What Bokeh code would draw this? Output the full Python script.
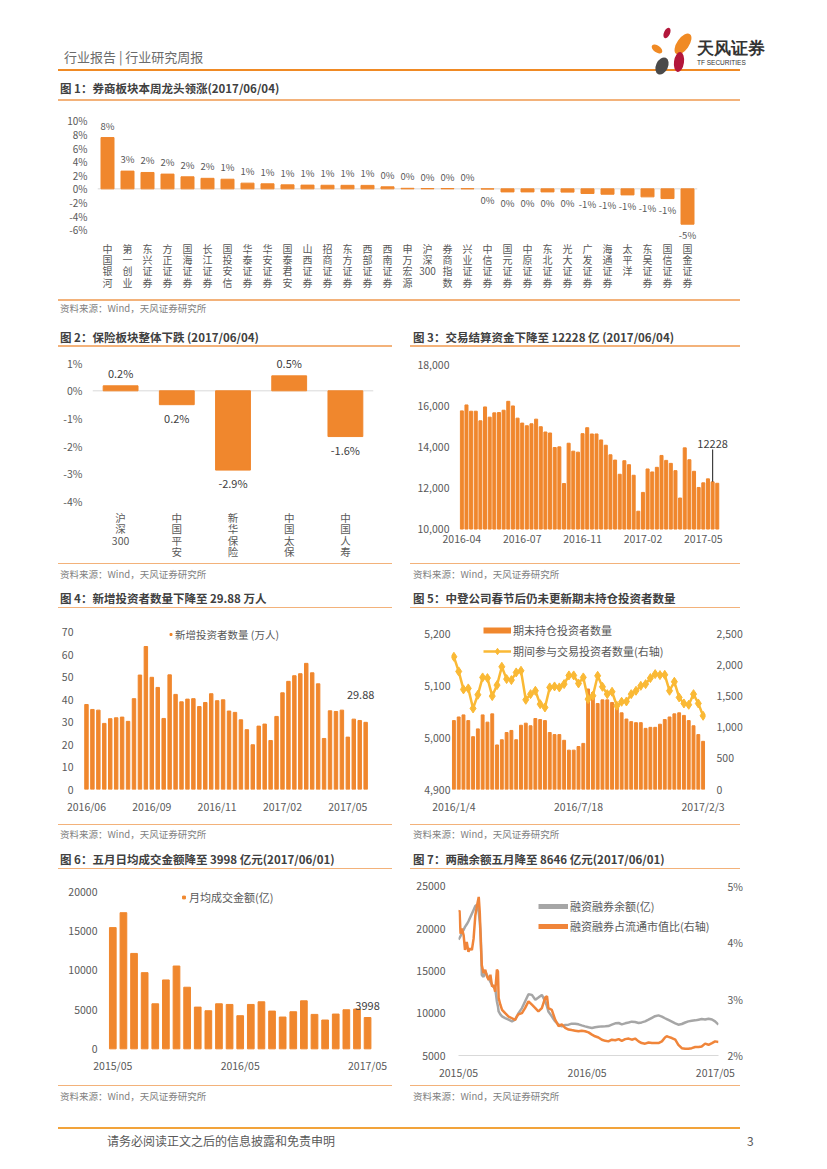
import math
import pandas as pd
from bokeh.plotting import figure
from bokeh.models import (ColumnDataSource, LabelSet, Span, FixedTicker, LinearAxis,
                          Range1d, Legend, LegendItem, Div, PrintfTickFormatter,
                          NumeralTickFormatter)
from bokeh.layouts import column, row
from bokeh.embed import file_html
from bokeh.resources import INLINE
from bokeh.core.properties import value

# ---------------- data ----------------
names1 = ["中国银河", "第一创业", "东兴证券", "方正证券", "国海证券", "长江证券", "国投安信",
          "华泰证券", "华安证券", "国泰君安", "山西证券", "招商证券", "东方证券", "西部证券",
          "西南证券", "申万宏源", "沪深300", "券商指数", "兴业证券", "中信证券", "国元证券",
          "中原证券", "东北证券", "光大证券", "广发证券", "海通证券", "太平洋", "东吴证券",
          "国信证券", "国金证券"]
chg1 = [7.55, 2.61, 2.41, 2.17, 1.77, 1.55, 1.42, 0.84, 0.74, 0.59, 0.55, 0.53, 0.52, 0.51,
        0.30, 0.08, 0.05, 0.05, 0.03, -0.03, -0.45, -0.45, -0.45, -0.48, -0.68, -0.79,
        -0.89, -1.18, -1.43, -5.2]
yticks1 = [-6, -4, -2, 0, 2, 4, 6, 8, 10]

names2 = ["沪深300", "中国平安", "新华保险", "中国太保", "中国人寿"]
chg2 = [0.18, -0.50, -2.86, 0.54, -1.65]
labels2 = ["0.2%", "0.2%", "-2.9%", "0.5%", "-1.6%"]
yticks2 = [-4, -3, -2, -1, 0, 1]

fund3 = [15751, 16040, 15735, 15735, 15269, 15944, 15446, 15655, 15671, 15783, 16217, 15992,
         15398, 15157, 15028, 15124, 15349, 14980, 14723, 14675, 13968, 14000, 12217, 14177,
         13791, 13743, 14643, 14932, 14627, 14627, 14337, 14080, 13614, 13357, 12667, 13325,
         13133, 12618, 10867, 11783, 12924, 12779, 13004, 13582, 13341, 13197, 12843, 11510,
         13952, 13373, 12811, 12024, 12249, 12442, 12297, 12228]
xticks3 = [0, 13, 26, 39, 52]
xlabels3 = ["2016-04", "2016-07", "2016-11", "2017-02", "2017-05"]
yticks3 = [10000, 12000, 14000, 16000, 18000]
ann3_index = 54
ann3_text = "12228"

new4 = [37.8, 35.6, 35.3, 29.4, 31.5, 31.9, 32.2, 30.3, 40.4, 50.9, 63.6, 49.9, 45.4, 31.6,
        51.0, 42.3, 39.0, 40.2, 40.4, 36.9, 38.7, 42.6, 39.5, 39.9, 34.9, 34.3, 31.0, 26.6,
        19.9, 28.2, 29.1, 21.8, 32.5, 43.0, 48.1, 50.6, 51.5, 56.1, 51.9, 47.0, 22.7, 35.0,
        34.7, 35.3, 23.3, 31.3, 30.7, 29.88]
xticks4 = [0, 11, 22, 33, 44]
xlabels4 = ["2016/06", "2016/09", "2016/11", "2017/02", "2017/05"]
yticks4 = [0, 10, 20, 30, 40, 50, 60, 70]
legend4 = "新增投资者数量 (万人)"

hold5 = [5033, 5040, 5044, 5033, 5002, 5017, 5044, 5030, 5046, 4986, 4996, 5010, 5014, 4996,
         5024, 5028, 5023, 5037, 5035, 5033, 5010, 5006, 5006, 4995, 4976, 4976, 4983, 4989,
         5094, 5087, 5066, 5073, 5073, 5068, 5058, 5048, 5036, 5031, 5029, 5029, 5018, 5020,
         5020, 5026, 5035, 5040, 5046, 5048, 5043, 5033, 5023, 5006, 4993]
trade5 = [2135, 1899, 1610, 1626, 1304, 1524, 1803, 1792, 1502, 1679, 1974, 1776, 1760, 1883,
          1910, 1443, 1534, 1588, 1373, 1320, 1642, 1658, 1642, 1695, 1835, 1835, 1706, 1803,
          1454, 1508, 1829, 1652, 1534, 1572, 1347, 1411, 1416, 1534, 1588, 1668, 1695, 1792,
          1856, 1840, 1845, 1588, 1733, 1481, 1384, 1363, 1534, 1384, 1186]
xticks5 = [0, 26, 52]
xlabels5 = ["2016/1/4", "2016/7/18", "2017/2/3"]
yticks5 = [4900, 5000, 5100, 5200]
rticks5 = [0, 500, 1000, 1500, 2000, 2500]
legend5 = ["期末持仓投资者数量", "期间参与交易投资者数量(右轴)"]

turn6 = [15476, 17378, 12178, 9725, 5751, 8795, 10571, 7865, 5328, 4863, 5751, 5666, 4228,
         5666, 6004, 4820, 4059, 4736, 6131, 4397, 3679, 4440, 4989, 5074, 3998]
xticks6 = [0, 12, 24]
xlabels6 = ["2015/05", "2016/05", "2017/05"]
yticks6 = [0, 5000, 10000, 15000, 20000]
legend6 = "月均成交金额(亿)"
ann6_text = "3998"

dates7 = ["2015-05-04", "2015-05-07", "2015-05-10", "2015-05-14", "2015-05-19", "2015-05-23",
          "2015-05-28", "2015-06-02", "2015-06-07", "2015-06-12", "2015-06-17", "2015-06-22",
          "2015-06-27", "2015-07-02", "2015-07-05", "2015-07-08", "2015-07-11", "2015-07-16",
          "2015-07-21", "2015-07-26", "2015-07-31", "2015-08-05", "2015-08-10", "2015-08-14",
          "2015-08-19", "2015-08-24", "2015-08-27", "2015-08-29", "2015-09-03", "2015-09-08",
          "2015-09-17", "2015-09-27", "2015-10-07", "2015-10-16", "2015-10-21", "2015-10-26",
          "2015-11-05", "2015-11-14", "2015-11-24", "2015-12-04", "2015-12-14", "2015-12-23",
          "2016-01-02", "2016-01-12", "2016-01-17", "2016-01-21", "2016-01-31", "2016-02-05",
          "2016-02-10", "2016-02-20", "2016-02-29", "2016-03-10", "2016-03-20", "2016-03-29",
          "2016-04-08", "2016-04-18", "2016-04-27", "2016-05-07", "2016-05-17", "2016-05-27",
          "2016-06-05", "2016-06-15", "2016-06-25", "2016-07-05", "2016-07-14", "2016-07-24",
          "2016-08-03", "2016-08-13", "2016-08-22", "2016-09-01", "2016-09-11", "2016-09-20",
          "2016-09-30", "2016-10-10", "2016-10-19", "2016-10-29", "2016-11-08", "2016-11-18",
          "2016-11-27", "2016-12-07", "2016-12-17", "2016-12-26", "2016-12-31", "2017-01-05",
          "2017-01-15", "2017-01-25", "2017-02-03", "2017-02-13", "2017-02-23", "2017-03-04",
          "2017-03-14", "2017-03-24", "2017-04-03", "2017-04-12", "2017-04-22", "2017-05-02",
          "2017-05-12", "2017-05-21", "2017-05-31"]
margin7 = [18700, 18900, 19100, 19520, 19850, 20190, 20500, 20850, 21300, 21750,
           22200, 22650, 22800, 21950, 20800, 19000, 14500, 14300, 14900, 14500,
           14120, 13700, 13340, 13100, 12950, 11380, 10800, 10200, 9850, 9620,
           9420, 9230, 9030, 9230, 9600, 10010, 10600, 11380, 12240, 12160,
           11580, 11850, 12160, 11380, 10800, 10200, 9620, 9300, 9030, 8640,
           8440, 8600, 8640, 8760, 8760, 8680, 8560, 8440, 8330, 8260,
           8330, 8400, 8440, 8460, 8480, 8640, 8800, 8840, 8680, 8800,
           8900, 9000, 8950, 8840, 8910, 9030, 9230, 9450, 9640, 9740,
           9600, 9400, 9300, 9200, 9000, 8800, 8640, 8720, 8900, 9030,
           9110, 9150, 9230, 9300, 9250, 9350, 9250, 9030, 8646]
ratio7 = [4.54, 4.57, 4.16, 4.25, 4.13, 3.87, 4.01, 3.84, 3.90, 3.87,
          4.07, 4.48, 4.66, 4.81, 4.54, 4.01, 3.60, 3.46, 3.52, 3.40,
          3.34, 3.43, 3.22, 3.25, 3.13, 3.52, 3.49, 3.02, 2.90, 2.81,
          2.75, 2.69, 2.66, 2.63, 2.69, 2.73, 2.75, 2.84, 2.96, 2.90,
          2.84, 2.78, 2.84, 3.03, 3.05, 2.84, 2.81, 2.72, 2.63, 2.52,
          2.55, 2.49, 2.46, 2.45, 2.44, 2.43, 2.44, 2.43, 2.41, 2.37,
          2.34, 2.32, 2.28, 2.26, 2.25, 2.28, 2.27, 2.29, 2.26, 2.29,
          2.30, 2.28, 2.30, 2.25, 2.22, 2.21, 2.23, 2.22, 2.22, 2.22,
          2.25, 2.32, 2.34, 2.33, 2.31, 2.28, 2.19, 2.13, 2.12, 2.12,
          2.13, 2.15, 2.15, 2.16, 2.21, 2.19, 2.22, 2.25, 2.24]
tickdates7 = ["2015-05-04", "2016-05-13", "2017-05-22"]
xlabels7 = ["2015/05", "2016/05", "2017/05"]
yticks7 = [5000, 10000, 15000, 20000, 25000]
rticks7 = [2, 3, 4, 5]
legend7 = ["融资融券余额(亿)", "融资融券占流通市值比(右轴)"]

titles = ["图 1：券商板块本周龙头领涨(2017/06/04)",
          "图 2：保险板块整体下跌 (2017/06/04)",
          "图 3：交易结算资金下降至 12228 亿 (2017/06/04)",
          "图 4：新增投资者数量下降至 29.88 万人",
          "图 5：中登公司春节后仍未更新期末持仓投资者数量",
          "图 6：五月日均成交金额降至 3998 亿元(2017/06/01)",
          "图 7：两融余额五月降至 8646 亿元(2017/06/01)"]
source_text = "资料来源：Wind，天风证券研究所"
header_text = "行业报告 | 行业研究周报"
footer_text = "请务必阅读正文之后的信息披露和免责申明"
page_no = "3"

# ---------------- style ----------------
FONT = "Noto Sans CJK SC"
ORANGE = "#F0872D"
GOLD = "#FAB935"
GREY = "#A6A6A6"
RED2 = "#F0853A"
TICK = "#595959"
DARK = "#404040"
RULE = "#F3B27A"
NAN = float("nan")


def stack(name):
    lines, buf = [], ""
    for ch in name:
        if ch.isascii():
            buf += ch
        else:
            if buf:
                lines.append(buf)
                buf = ""
            lines.append(ch)
    if buf:
        lines.append(buf)
    return "\n".join(lines)


def pct_label(v):
    r = int(math.floor(abs(v) + 0.5))
    return ("-" if (v < 0 and r > 0) else "") + f"{r}%"


def style_axis(ax, size="10px", standoff=8):
    ax.major_label_text_font = FONT
    ax.major_label_text_font_size = size
    ax.major_label_text_color = TICK
    ax.axis_line_color = None
    ax.major_tick_line_color = None
    ax.minor_tick_line_color = None
    ax.major_tick_out = 0
    ax.major_tick_in = 0
    ax.minor_tick_out = 0
    ax.minor_tick_in = 0
    ax.major_label_standoff = standoff


def mkfig(w, h, l, r, t, b, xr, yr):
    p = figure(width=w, height=h, x_range=xr, y_range=yr, output_backend="svg",
               toolbar_location=None, min_border_left=l, min_border_right=r,
               min_border_top=t, min_border_bottom=b)
    p.outline_line_color = None
    p.xgrid.visible = False
    p.ygrid.visible = False
    for ax in p.axis:
        style_axis(ax)
    return p


def set_xticks(p, ticks, labels):
    p.xaxis.ticker = FixedTicker(ticks=ticks, minor_ticks=[])
    p.xaxis.major_label_overrides = {t: s for t, s in zip(ticks, labels)}


def mklegend(p, items, x, y, gw, gh, standoff, spacing, size):
    lg = Legend(items=items, location=(x, y), orientation="vertical", padding=0, margin=0,
                spacing=spacing, glyph_width=gw, glyph_height=gh, label_height=gh,
                label_standoff=standoff, label_text_font=FONT, label_text_font_size=size,
                label_text_color=TICK, border_line_color=None, background_fill_alpha=0)
    p.add_layout(lg, "center")


# ---------------- chart 1 ----------------
src1 = ColumnDataSource(dict(x=list(range(len(names1))), v=chg1,
                             lab=[pct_label(v) for v in chg1],
                             off=[12 if v >= 0 else -11 for v in chg1]))
p1 = mkfig(819, 192, 97, 122, 13, 56, Range1d(-0.5, len(names1) - 0.5), Range1d(-7.6, 10.5))
p1.add_layout(Span(location=0, dimension="width", line_color="#D9D9D9", line_width=1,
                   level="underlay"))
p1.vbar(x="x", top="v", width=0.65, color=ORANGE, source=src1)
p1.yaxis.ticker = FixedTicker(ticks=yticks1, minor_ticks=[])
p1.yaxis.formatter = PrintfTickFormatter(format="%d%%")
p1.yaxis.major_label_standoff = 10
set_xticks(p1, list(range(len(names1))), [stack(n) for n in names1])
p1.xaxis.major_label_text_line_height = 0.76
p1.xaxis.major_label_standoff = 0
p1.add_layout(LabelSet(x="x", y="v", text="lab", y_offset="off", source=src1,
                       text_align="center", text_baseline="middle",
                       text_font=value(FONT), text_font_size="9.5px", text_color=TICK))

# ---------------- row 2: shared borders (top 2, bottom 6) ----------------
src2 = ColumnDataSource(dict(x=list(range(len(names2))), v=chg2, lab=labels2,
                             off=[13 if v >= 0 else -13 for v in chg2]))
p2 = mkfig(400, 212, 92, 27, 2, 6, Range1d(-0.5, len(names2) - 0.5), Range1d(-5.904, 1.382))
p2.add_layout(Span(location=0, dimension="width", line_color="#D9D9D9", line_width=1,
                   level="underlay"))
p2.vbar(x="x", top="v", width=0.62, color=ORANGE, source=src2)
p2.yaxis.ticker = FixedTicker(ticks=yticks2, minor_ticks=[])
p2.yaxis.formatter = PrintfTickFormatter(format="%d%%")
p2.yaxis.major_label_text_font_size = "10.5px"
p2.yaxis.major_label_standoff = 10
set_xticks(p2, list(range(len(names2))), [stack(n) for n in names2])
p2.xaxis.major_label_text_font_size = "10.5px"
p2.xaxis.major_label_text_line_height = 0.77
p2.xaxis.major_label_standoff = -45
p2.add_layout(LabelSet(x="x", y="v", text="lab", y_offset="off", source=src2,
                       text_align="center", text_baseline="middle",
                       text_font=value(FONT), text_font_size="11px", text_color=DARK))

x3 = list(range(len(fund3)))
p3 = mkfig(419, 212, 59, 86, 2, 6, Range1d(-0.5, len(fund3) + 2.5), Range1d(8761, 18593))
p3.vbar(x=x3, top=fund3, bottom=yticks3[0], width=0.65, color=ORANGE)
p3.yaxis.ticker = FixedTicker(ticks=yticks3, minor_ticks=[])
p3.yaxis.formatter = NumeralTickFormatter(format="0,0")
p3.yaxis.major_label_text_font_size = "10.5px"
p3.yaxis.major_label_standoff = 10
set_xticks(p3, xticks3, xlabels3)
p3.xaxis.major_label_text_font_size = "10.5px"
p3.xaxis.major_label_standoff = -20
ann3_top = fund3[ann3_index] + 1570
p3.segment(x0=[ann3_index], y0=[fund3[ann3_index]], x1=[ann3_index], y1=[ann3_top],
           line_color=DARK, line_width=1.2)
src3a = ColumnDataSource(dict(x=[ann3_index], y=[ann3_top], t=[ann3_text]))
p3.add_layout(LabelSet(x="x", y="y", text="t", source=src3a, y_offset=2,
                       text_align="center", text_baseline="bottom",
                       text_font=value(FONT), text_font_size="11px", text_color=DARK))

# ---------------- row 3: shared borders (top 7, bottom 33) ----------------
x4 = list(range(len(new4)))
p4 = mkfig(400, 212, 83, 20, 7, 33, Range1d(-0.5, len(new4) + 1.5), Range1d(0, 76.5))
p4.vbar(x=x4, top=new4, width=0.58, color=ORANGE)
p4.yaxis.ticker = FixedTicker(ticks=yticks4, minor_ticks=[])
p4.yaxis.major_label_text_font_size = "10.5px"
p4.yaxis.major_label_standoff = 10
set_xticks(p4, xticks4, xlabels4)
p4.xaxis.major_label_text_font_size = "10.5px"
p4.xaxis.major_label_standoff = 9
src4a = ColumnDataSource(dict(x=[x4[-1]], y=[new4[-1]], t=[f"{new4[-1]:.2f}"]))
p4.add_layout(LabelSet(x="x", y="y", text="t", source=src4a, y_offset=27, x_offset=-5,
                       text_align="center", text_baseline="middle",
                       text_font=value(FONT), text_font_size="11px", text_color=DARK))
px4 = p4.scatter(x=[NAN], y=[NAN], marker="square", size=7, color=ORANGE)
mklegend(p4, [LegendItem(label=legend4, renderers=[px4])], 85, 147, 5, 16, 2, 0, "10.5px")

x5 = list(range(len(hold5)))
p5 = mkfig(419, 212, 51, 114, 7, 33, Range1d(-0.5, len(hold5) - 0.5), Range1d(4900, 5232))
p5.extra_y_ranges = {"r": Range1d(0, 2500 * 332 / 300)}
p5.vbar(x=x5, top=hold5, width=0.6, color=ORANGE)
l5 = p5.line(x=x5, y=trade5, y_range_name="r", line_width=2.5, color=GOLD)
s5 = p5.scatter(x=x5, y=trade5, y_range_name="r", marker="diamond", size=9, color=GOLD)
p5.yaxis.ticker = FixedTicker(ticks=yticks5, minor_ticks=[])
p5.yaxis.formatter = NumeralTickFormatter(format="0,0")
p5.yaxis.major_label_text_font_size = "10.5px"
p5.yaxis.major_label_standoff = 1
ax5r = LinearAxis(y_range_name="r")
style_axis(ax5r, "10.5px", 11)
ax5r.ticker = FixedTicker(ticks=rticks5, minor_ticks=[])
ax5r.formatter = NumeralTickFormatter(format="0,0")
p5.add_layout(ax5r, "right")
set_xticks(p5, xticks5, xlabels5)
p5.xaxis.major_label_text_font_size = "10.5px"
p5.xaxis.major_label_standoff = 9
pb5 = p5.line(x=[NAN], y=[NAN], line_width=6, color=ORANGE)
mklegend(p5, [LegendItem(label=legend5[0], renderers=[pb5]),
              LegendItem(label=legend5[1], renderers=[l5, s5])],
         32, 130, 28, 16, 2, 5, "11px")

# ---------------- row 4: shared borders (top 12, bottom 26) ----------------
x6 = list(range(len(turn6)))
p6 = mkfig(400, 210, 107, 17, 12, 26, Range1d(-0.5, len(turn6) + 0.5), Range1d(-850, 20977))
p6.vbar(x=x6, top=turn6, width=0.63, color=ORANGE)
p6.yaxis.ticker = FixedTicker(ticks=yticks6, minor_ticks=[])
p6.yaxis.formatter = NumeralTickFormatter(format="0")
p6.yaxis.major_label_text_font_size = "10.5px"
p6.yaxis.major_label_standoff = 10
set_xticks(p6, xticks6, xlabels6)
p6.xaxis.major_label_text_font_size = "10.5px"
p6.xaxis.major_label_standoff = 2
src6a = ColumnDataSource(dict(x=[x6[-1]], y=[turn6[-1]], t=[ann6_text]))
p6.add_layout(LabelSet(x="x", y="y", text="t", source=src6a, y_offset=12,
                       text_align="center", text_baseline="middle",
                       text_font=value(FONT), text_font_size="11px", text_color=DARK))
px6 = p6.scatter(x=[NAN], y=[NAN], marker="square", size=7, color=ORANGE)
mklegend(p6, [LegendItem(label=legend6, renderers=[px6])], 73, 150, 7, 16, 2, 0, "11px")

t0 = pd.Timestamp(dates7[0])
x7 = [(pd.Timestamp(d) - t0).days for d in dates7]
tick7 = [(pd.Timestamp(d) - t0).days for d in tickdates7]
p7 = mkfig(419, 210, 58, 101, 12, 26, Range1d(0, x7[-1]), Range1d(5000, 25200))
p7.extra_y_ranges = {"r": Range1d(2, 5.03)}
l7a = p7.line(x=x7, y=margin7, line_width=2.5, color=GREY)
l7b = p7.line(x=x7, y=ratio7, y_range_name="r", line_width=2.5, color=RED2)
p7.yaxis.ticker = FixedTicker(ticks=yticks7, minor_ticks=[])
p7.yaxis.formatter = NumeralTickFormatter(format="0")
p7.yaxis.major_label_text_font_size = "10.5px"
p7.yaxis.major_label_standoff = 13
ax7r = LinearAxis(y_range_name="r")
style_axis(ax7r, "10.5px", 9)
ax7r.ticker = FixedTicker(ticks=rticks7, minor_ticks=[])
ax7r.formatter = PrintfTickFormatter(format="%d%%")
p7.add_layout(ax7r, "right")
set_xticks(p7, tick7, xlabels7)
p7.xaxis.major_label_text_font_size = "10.5px"
p7.xaxis.major_label_standoff = 9
p7.xaxis.axis_line_color = "#D9D9D9"
pa7 = p7.line(x=[NAN], y=[NAN], line_width=5, color=GREY)
pb7 = p7.line(x=[NAN], y=[NAN], line_width=5, color=RED2)
mklegend(p7, [LegendItem(label=legend7[0], renderers=[pa7]),
              LegendItem(label=legend7[1], renderers=[pb7])],
         80, 121, 30, 16, 2, 4, "11px")


# ---------------- page chrome (HTML blocks) ----------------
def txt(x, y, s, size, color, weight="normal"):
    return (f'<div style="position:absolute;left:{x}px;top:{y - size * 0.7:.1f}px;'
            f'font-size:{size}px;line-height:{size * 1.4:.1f}px;color:{color};'
            f'font-weight:{weight};white-space:nowrap;font-family:\'{FONT}\',sans-serif;">{s}</div>')


def hline(x0, x1, y, th, color):
    return (f'<div style="position:absolute;left:{x0}px;top:{y - th / 2:.1f}px;'
            f'width:{x1 - x0}px;height:{th}px;background:{color};"></div>')


def block(height, items):
    html = (f'<div style="position:relative;width:819px;height:{height}px;overflow:hidden;">'
            + "".join(items) + '</div>')
    return Div(text=html, width=819, height=height, margin=(0, 0, 0, 0))


logo = (
    '<svg style="position:absolute;left:644px;top:26px" width="130" height="54" viewBox="0 0 130 54">'
    '<ellipse cx="23" cy="7" rx="3" ry="5.5" fill="#B3173B" transform="rotate(25 23 7)"/>'
    '<ellipse cx="39" cy="18" rx="6" ry="12" fill="#F08A24" transform="rotate(35 39 18)"/>'
    '<ellipse cx="13" cy="23" rx="3.5" ry="6" fill="#F08A24" transform="rotate(-55 13 23)"/>'
    '<ellipse cx="35" cy="36" rx="5" ry="10" fill="#B3173B" transform="rotate(8 35 36)"/>'
    '<ellipse cx="18" cy="40" rx="6" ry="9" fill="#4A4A4A" transform="rotate(25 18 40)"/>'
    f'<text x="53" y="28" font-size="17" font-weight="bold" fill="#333" font-family="{FONT}">天风证券</text>'
    f'<text x="53" y="39" font-size="6.5" fill="#333" font-family="{FONT}">TF SECURITIES</text>'
    '</svg>')

hdr = block(104, [
    txt(64, 57, header_text, 13, "#6B6B6B"),
    hline(58, 740, 70, 2.5, "#F08A24"),
    logo,
    txt(60, 88, titles[0], 11.5, DARK, "bold"),
    hline(58, 740, 100, 1.5, RULE),
])

m1 = block(54, [
    hline(58, 740, 4, 1.5, RULE),
    txt(60, 13, source_text, 9.5, "#7F7F7F"),
    txt(60, 41, titles[1], 11.5, DARK, "bold"),
    txt(413, 41, titles[2], 11.5, DARK, "bold"),
    hline(58, 392, 50, 1.5, RULE),
    hline(410, 740, 50, 1.5, RULE),
])

m2 = block(48, [
    hline(58, 392, 1.5, 1.5, RULE),
    hline(410, 740, 1.5, 1.5, RULE),
    txt(60, 13, source_text, 9.5, "#7F7F7F"),
    txt(413, 13, source_text, 9.5, "#7F7F7F"),
    txt(60, 35.7, titles[3], 11.5, DARK, "bold"),
    txt(413, 35.7, titles[4], 11.5, DARK, "bold"),
    hline(58, 392, 45.3, 1.5, RULE),
    hline(410, 740, 45.3, 1.5, RULE),
])

m3 = block(50, [
    hline(58, 392, 2.3, 1.5, RULE),
    hline(410, 740, 2.3, 1.5, RULE),
    txt(60, 12.3, source_text, 9.5, "#7F7F7F"),
    txt(413, 12.3, source_text, 9.5, "#7F7F7F"),
    txt(60, 36.5, titles[5], 11.5, DARK, "bold"),
    txt(413, 36.5, titles[6], 11.5, DARK, "bold"),
    hline(58, 392, 46.3, 1.5, RULE),
    hline(410, 740, 46.3, 1.5, RULE),
])

ftr = block(79, [
    hline(58, 392, 3.3, 1.5, RULE),
    hline(410, 740, 3.3, 1.5, RULE),
    txt(60, 15, source_text, 9.5, "#7F7F7F"),
    txt(413, 15, source_text, 9.5, "#7F7F7F"),
    hline(58, 740, 46, 2.5, "#F2A33A"),
    txt(107, 59, footer_text, 12, TICK),
    txt(747, 59, page_no, 12, TICK),
])

layout = column(hdr, p1, m1, row(p2, p3, spacing=0), m2, row(p4, p5, spacing=0), m3,
                row(p6, p7, spacing=0), ftr, spacing=0)

open("out.html", "w").write(file_html(layout, INLINE))
